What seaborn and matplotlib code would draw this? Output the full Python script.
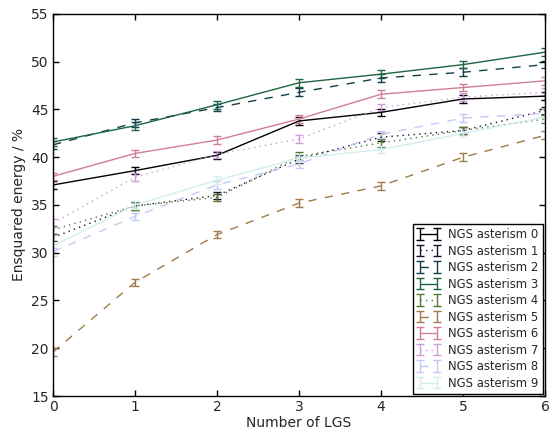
import numpy as np
import matplotlib
matplotlib.use("Agg")
import matplotlib.pyplot as plt
import seaborn as sns

n_lgs = [0, 1, 2, 3, 4, 5, 6]
labels = [f"NGS asterism {i}" for i in range(10)]

# ensquared energy (%) per NGS asterism
ee_0 = [37.1, 38.6, 40.2, 43.8, 44.7, 46.1, 46.4]
ee_1 = [31.6, 34.9, 36.0, 39.8, 42.1, 42.8, 44.9]
ee_2 = [41.3, 43.6, 45.2, 46.8, 48.3, 48.9, 49.7]
ee_3 = [41.6, 43.3, 45.5, 47.8, 48.7, 49.7, 51.0]
ee_4 = [32.4, 34.9, 35.8, 40.1, 41.5, 42.8, 44.0]
ee_5 = [19.6, 26.9, 31.9, 35.2, 37.0, 40.0, 42.3]
ee_6 = [38.0, 40.4, 41.8, 44.0, 46.6, 47.3, 48.0]
ee_7 = [33.1, 37.9, 40.3, 41.9, 45.2, 46.3, 46.8]
ee_8 = [30.1, 33.8, 37.1, 39.3, 42.4, 44.1, 44.6]
ee_9 = [30.7, 35.0, 37.6, 39.9, 40.8, 42.5, 44.2]
ee_err = [0.4, 0.4, 0.4, 0.4, 0.4, 0.4, 0.4]

series = [ee_0, ee_1, ee_2, ee_3, ee_4, ee_5, ee_6, ee_7, ee_8, ee_9]
line_styles = ['-', ':', '--']

sns.set_style("ticks", {"xtick.direction": "in", "ytick.direction": "in",
                        "axes.edgecolor": "black"})
plt.rcParams['font.family'] = ['DejaVu Sans']
# classic-looking dash patterns
plt.rcParams['lines.scale_dashes'] = False
plt.rcParams['lines.dashed_pattern'] = [6, 6]
plt.rcParams['lines.dotted_pattern'] = [1, 3]
palette = sns.color_palette(plt.cm.cubehelix(np.arange(10) / 10.0))

fig = plt.figure(figsize=(5.49, 4.32), dpi=100)
ax = fig.add_axes([53 / 549, 1 - 396 / 432, 492 / 549, 382 / 432])

for i, ee in enumerate(series):
    ax.errorbar(n_lgs, ee, yerr=ee_err, color=palette[i], ls=line_styles[i % 3],
                lw=1, elinewidth=1, capsize=3, capthick=1, label=labels[i])

ax.set_xlim(0, 6)
ax.set_ylim(15, 55)
ax.set_xticks(n_lgs)
ax.set_yticks(range(15, 56, 5))
ax.tick_params(top=True, right=True, labelsize=10, length=4, width=1,
               color='black', pad=3)
for sp in ax.spines.values():
    sp.set_linewidth(1)
ax.set_xlabel("Number of LGS", fontsize=10, labelpad=1)
ax.set_ylabel("Ensquared energy / %", fontsize=10)

leg = ax.legend(loc="lower right", fontsize=8.4, frameon=True, fancybox=False,
                framealpha=1, edgecolor='black', borderaxespad=0.2,
                handlelength=2, labelspacing=0.3, numpoints=2,
                handletextpad=0.7, borderpad=0.35)
leg.get_frame().set_linewidth(1)

fig.savefig("out.png", dpi=100)
